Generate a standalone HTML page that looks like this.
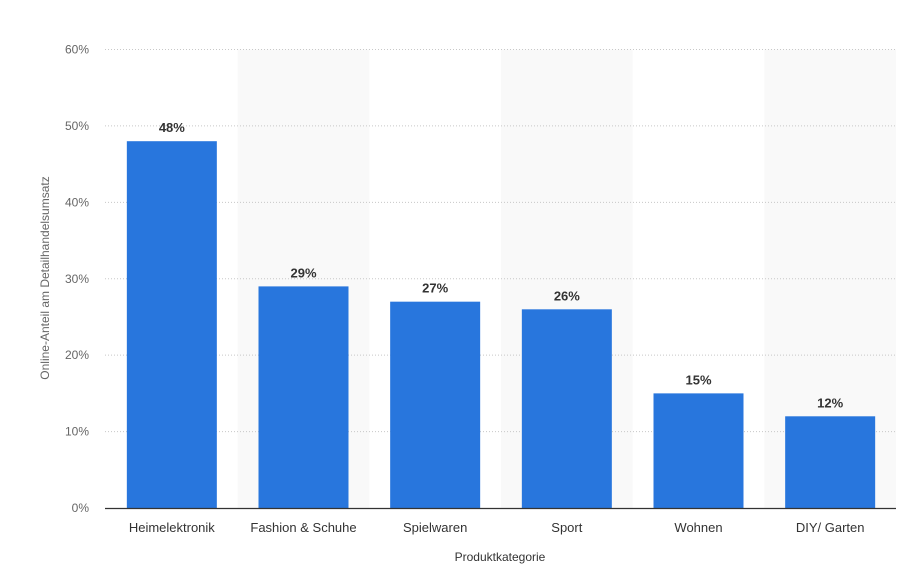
<!DOCTYPE html>
<html><head><meta charset="utf-8"><style>
body{margin:0;background:#fff;font-family:"Liberation Sans",sans-serif;}
</style></head><body>
<svg id="chart" width="907" height="575" xmlns="http://www.w3.org/2000/svg"></svg>
<script>
const categories=["Heimelektronik","Fashion & Schuhe","Spielwaren","Sport","Wohnen","DIY/ Garten"];
const values=[48,29,27,26,15,12];
const ticks=[0,10,20,30,40,50,60];
const svg=document.getElementById('chart');
const NS='http://www.w3.org/2000/svg';
const x0=106,x1=896,yTop=49.5,yBot=508,yMax=60;
const band=(x1-x0)/categories.length;
const barW=90;
function y(v){return yBot-(v/yMax)*(yBot-yTop);}
function bx(i){return x0+band*i;}
function mk(tag,attrs,parent){const e=document.createElementNS(NS,tag);for(const k in attrs)e.setAttribute(k,attrs[k]);(parent||svg).appendChild(e);return e;}
categories.forEach((c,i)=>{if(i%2===1){const r=mk('rect',{x:bx(i),y:yTop,width:band,height:yBot-yTop,fill:'#f9f9f9'});

}});
ticks.forEach(t=>{
 if(t>0){const l=mk('line',{x1:x0-1,x2:x1,y1:y(t),y2:y(t),stroke:'#c8c8c8','stroke-dasharray':'1,2'});
 
 }
 const tx=mk('text',{x:89,y:y(t)+4,'text-anchor':'end','font-size':12,fill:'#666'});
 tx.textContent=t+'%';
 
 
});
categories.forEach((c,i)=>{
 const cx=bx(i)+band/2;
 const r=mk('rect',{x:cx-barW/2,y:y(values[i]),width:barW,height:yBot-y(values[i]),fill:'#2876dd'});
 
 
 const v=mk('text',{x:cx,y:y(values[i])-9,'text-anchor':'middle','font-size':13,'font-weight':'bold',fill:'#333'});
 v.textContent=values[i]+'%';
 
 
 const l=mk('text',{x:cx,y:532,'text-anchor':'middle','font-size':13,fill:'#333'});
 l.textContent=c;
 
 
});
const ax=mk('line',{x1:x0-1,x2:x1,y1:yBot+0.5,y2:yBot+0.5,stroke:'#333','stroke-width':1.2});


const xt=mk('text',{x:500,y:561,'text-anchor':'middle','font-size':12,fill:'#333'});
xt.textContent='Produktkategorie';


const yt=mk('text',{x:0,y:0,'text-anchor':'middle','font-size':12,fill:'#666',transform:'translate(49,278) rotate(-90)'});
yt.textContent='Online-Anteil am Detailhandelsumsatz';


</script>
</body></html>
